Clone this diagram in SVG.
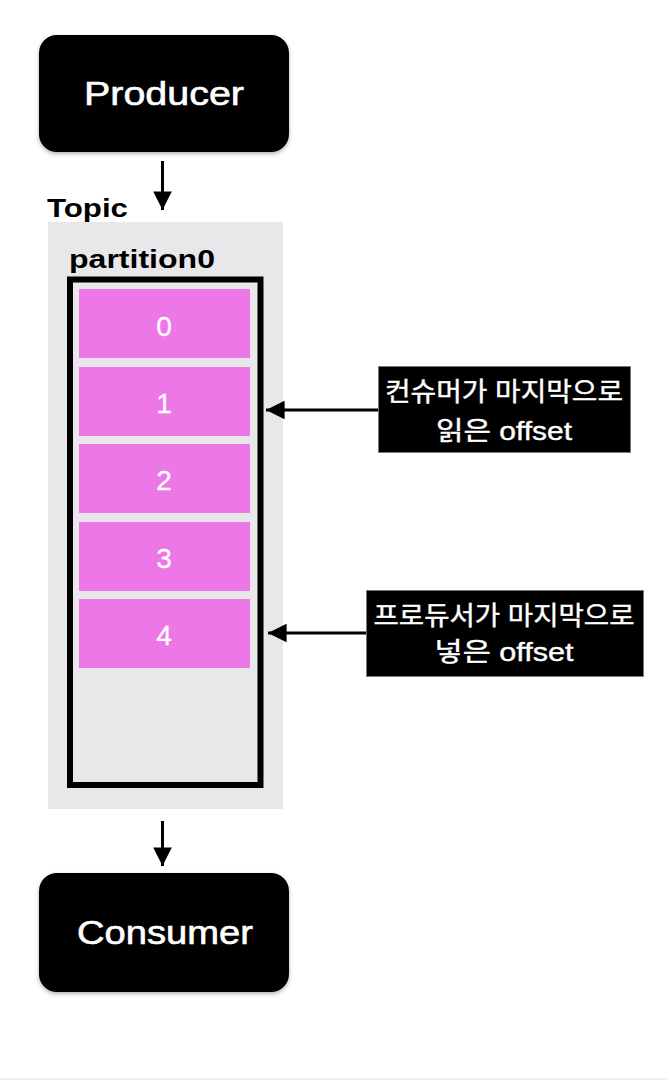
<svg xmlns="http://www.w3.org/2000/svg" width="667" height="1080" viewBox="0 0 667 1080">
<style>
.node{fill:#000}
.nodetxt{fill:#fff;stroke:#fff;stroke-width:0.6;font-family:"Liberation Sans",Arial,sans-serif;font-size:33px;text-anchor:middle}
.lbl{fill:#000;font-family:"Liberation Sans",Arial,sans-serif;font-size:25px;font-weight:bold}
.cell{fill:#ee77e8}
.digit{fill:#fff;stroke:#fff;stroke-width:0.3;font-family:"Liberation Sans",Arial,sans-serif;font-size:28px;text-anchor:middle}
.note{fill:#000;stroke:#777;stroke-width:0.8}
.notetxt{fill:#fff;stroke:#fff;stroke-width:0.4;font-family:"Liberation Sans","Noto Sans CJK KR",sans-serif;font-size:26px;text-anchor:middle}
.conn{stroke:#000;stroke-width:3;fill:none}
</style>
<defs>
<marker id="ah" viewBox="0 0 10 10" refX="10" refY="5" markerWidth="6.2" markerHeight="6.2" markerUnits="strokeWidth" orient="auto">
<path d="M0,0 L10,5 L0,10 Z" fill="#000"/>
</marker>
<filter id="sh" x="-10%" y="-10%" width="120%" height="130%">
<feDropShadow dx="0" dy="2" stdDeviation="2" flood-color="#000" flood-opacity="0.3"/>
</filter>
</defs>
<rect x="0" y="0" width="667" height="1080" fill="#fff"/>
<rect x="0" y="1078" width="667" height="2" fill="#eeeeee"/>

<g id="producer">
<rect class="node" x="39" y="35" width="250" height="117" rx="18" filter="url(#sh)"/>
<text class="nodetxt" x="164" y="105" textLength="160" lengthAdjust="spacingAndGlyphs">Producer</text>
</g>

<g id="topic">
<text class="lbl" x="47" y="217" textLength="81" lengthAdjust="spacingAndGlyphs">Topic</text>
<rect x="48" y="222" width="235" height="587" fill="#e8e7ea"/>
</g>

<g id="partition0">
<text class="lbl" x="69" y="268" textLength="146" lengthAdjust="spacingAndGlyphs">partition0</text>
<rect x="70" y="279.5" width="190.5" height="505.5" fill="none" stroke="#000" stroke-width="6"/>
</g>

<g id="offset0">
<rect class="cell" x="79" y="289" width="171" height="69"/>
<text class="digit" x="164" y="336">0</text>
</g>
<g id="offset1">
<rect class="cell" x="79" y="367" width="171" height="69"/>
<text class="digit" x="164" y="413">1</text>
</g>
<g id="offset2">
<rect class="cell" x="79" y="444" width="171" height="69"/>
<text class="digit" x="164" y="490">2</text>
</g>
<g id="offset3">
<rect class="cell" x="79" y="522" width="171" height="69"/>
<text class="digit" x="164" y="568">3</text>
</g>
<g id="offset4">
<rect class="cell" x="79" y="599" width="171" height="69"/>
<text class="digit" x="164" y="645">4</text>
</g>

<g id="consumer-note">
<rect class="note" x="378.5" y="366.5" width="252" height="86"/>
<text class="notetxt" x="504" y="401" textLength="238" lengthAdjust="spacingAndGlyphs">컨슈머가 마지막으로</text>
<text class="notetxt" x="504" y="440" textLength="136" lengthAdjust="spacingAndGlyphs">읽은 offset</text>
</g>

<g id="producer-note">
<rect class="note" x="366.5" y="590.5" width="277" height="86"/>
<text class="notetxt" x="504" y="625" textLength="261" lengthAdjust="spacingAndGlyphs">프로듀서가 마지막으로</text>
<text class="notetxt" x="504" y="661" textLength="139" lengthAdjust="spacingAndGlyphs">넣은 offset</text>
</g>

<g id="consumer">
<rect class="node" x="39" y="873" width="250" height="119" rx="18" filter="url(#sh)"/>
<text class="nodetxt" x="165" y="944" textLength="176" lengthAdjust="spacingAndGlyphs">Consumer</text>
</g>

<g id="connectors">
<line class="conn" x1="162.5" y1="161" x2="162.5" y2="210" marker-end="url(#ah)"/>
<line class="conn" x1="162.5" y1="821" x2="162.5" y2="866" marker-end="url(#ah)"/>
<line class="conn" x1="378" y1="410" x2="266" y2="410" marker-end="url(#ah)"/>
<line class="conn" x1="366" y1="633" x2="268" y2="633" marker-end="url(#ah)"/>
</g>
</svg>
